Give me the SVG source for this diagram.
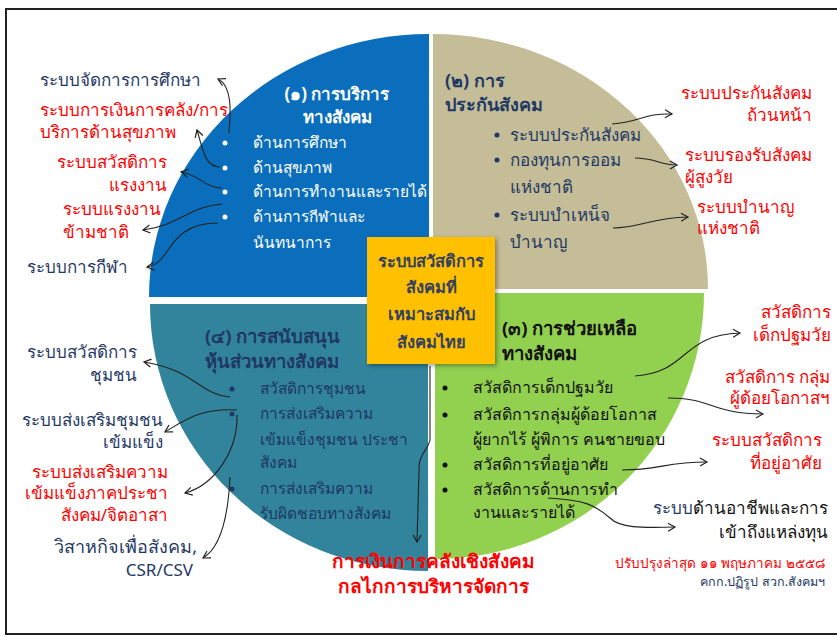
<svg xmlns="http://www.w3.org/2000/svg" width="837" height="637" viewBox="0 0 837 637">
<defs>
<marker id="a" markerWidth="10" markerHeight="10" refX="8" refY="5" orient="auto" markerUnits="userSpaceOnUse">
<path d="M1,1 L8,5 L1,9" fill="none" stroke="#222" stroke-width="1.2"/>
</marker>
<filter id="sh" x="-10%" y="-10%" width="130%" height="130%">
<feDropShadow dx="2" dy="2" stdDeviation="2" flood-color="#000" flood-opacity="0.35"/>
</filter>
</defs>
<style>
text{font-family:"Noto Sans","DejaVu Sans",sans-serif;font-size:17px}
.s15{font-size:15.5px}
.s16{font-size:16px}
.b{font-weight:bold}
.w{fill:#fff}
.nv{fill:#1F3864}
.rd{fill:#FF0000}
.bk{fill:#111}
.e{text-anchor:end}
.m{text-anchor:middle}
.c{fill:none;stroke:#222;stroke-width:1.1;marker-end:url(#a)}
</style>
<rect x="0" y="0" width="837" height="637" fill="#fff"/>
<rect x="6" y="9" width="840" height="625" fill="none" stroke="#222" stroke-width="2"/>

<g id="q1">
<path d="M429,297 L149,297 A280,263 0 0 1 429,34 Z" fill="#0A6EBD"/>
<text class="b w m" x="337" y="100" style="font-size:17px">(๑) การบริการ</text>
<text class="b w m" x="337" y="123" style="font-size:17px">ทางสังคม</text>
<g class="w">
<circle cx="225" cy="143" r="2.5"/><circle cx="225" cy="168" r="2.5"/><circle cx="225" cy="192" r="2.5"/><circle cx="225" cy="217" r="2.5"/>
</g>
<text class="w s15" x="253" y="148">ด้านการศึกษา</text>
<text class="w s15" x="253" y="173">ด้านสุขภาพ</text>
<text class="w s15" x="253" y="197">ด้านการทำงานและรายได้</text>
<text class="w s15" x="253" y="222">ด้านการกีฬาและ</text>
<text class="w s15" x="253" y="248">นันทนาการ</text>
</g>

<g id="q2">
<path d="M433,289 L433,34 A275,255 0 0 1 708,289 Z" fill="#C4BD97"/>
<text class="b nv" x="445" y="87" style="font-size:18px">(๒) การ</text>
<text class="b nv" x="445" y="111" style="font-size:18px">ประกันสังคม</text>
<g class="nv">
<circle cx="497" cy="135" r="2.5"/><circle cx="497" cy="160" r="2.5"/><circle cx="497" cy="215" r="2.5"/>
</g>
<text class="nv" x="510" y="141">ระบบประกันสังคม</text>
<text class="nv" x="510" y="166">กองทุนการออม</text>
<text class="nv" x="510" y="193">แห่งชาติ</text>
<text class="nv" x="510" y="221">ระบบบำเหน็จ</text>
<text class="nv" x="510" y="248">บำนาญ</text>
</g>

<g id="q3">
<path d="M435,293 L704,293 A269,266 0 0 1 435,559 Z" fill="#92D050"/>
<text class="b bk" x="502" y="335" style="font-size:18.5px">(๓) การช่วยเหลือ</text>
<text class="b bk" x="502" y="360" style="font-size:18.5px">ทางสังคม</text>
<g class="bk">
<circle cx="445" cy="388" r="2.5"/><circle cx="445" cy="415" r="2.5"/><circle cx="445" cy="465" r="2.5"/><circle cx="445" cy="490" r="2.5"/>
</g>
<text class="bk s16" x="473" y="393">สวัสดิการเด็กปฐมวัย</text>
<text class="bk s16" x="473" y="420">สวัสดิการกลุ่มผู้ด้อยโอกาส</text>
<text class="bk s16" x="473" y="445">ผู้ยากไร้ ผู้พิการ คนชายขอบ</text>
<text class="bk s16" x="473" y="470">สวัสดิการที่อยู่อาศัย</text>
<text class="bk s16" x="473" y="495">สวัสดิการด้านการทำ</text>
<text class="bk s16" x="473" y="518">งานและรายได้</text>
</g>

<g id="q4">
<path d="M428,304 L428,571 A278,267 0 0 1 150,304 Z" fill="#31849B"/>
<text class="b nv" x="205" y="343" style="font-size:18.5px">(๔) การสนับสนุน</text>
<text class="b nv" x="205" y="368" style="font-size:18.5px">หุ้นส่วนทางสังคม</text>
<g class="nv">
<circle cx="232" cy="389" r="2.5"/><circle cx="232" cy="414" r="2.5"/><circle cx="232" cy="489" r="2.5"/>
</g>
<text class="nv s15" x="260" y="394">สวัสดิการชุมชน</text>
<text class="nv s15" x="260" y="419">การส่งเสริมความ</text>
<text class="nv s15" x="260" y="445">เข้มแข็งชุมชน ประชา</text>
<text class="nv s15" x="260" y="468">สังคม</text>
<text class="nv s15" x="260" y="494">การส่งเสริมความ</text>
<text class="nv s15" x="260" y="519">รับผิดชอบทางสังคม</text>
</g>

<g id="center">
<rect x="367" y="237" width="128" height="127" fill="#FFC000" filter="url(#sh)"/>
<text class="b m" x="431" y="267" style="fill:#333F5F;font-size:16.5px">ระบบสวัสดิการ</text>
<text class="b m" x="431" y="293" style="fill:#333F5F;font-size:16.5px">สังคมที่</text>
<text class="b m" x="431" y="320" style="fill:#333F5F;font-size:16.5px">เหมาะสมกับ</text>
<text class="b m" x="431" y="348" style="fill:#333F5F;font-size:16.5px">สังคมไทย</text>
</g>

<g id="labels-left-top">
<text class="nv" x="40" y="86">ระบบจัดการการศึกษา</text>
<text class="rd" x="40" y="116">ระบบการเงินการคลัง/การ</text>
<text class="rd" x="40" y="138">บริการด้านสุขภาพ</text>
<text class="rd e" x="167" y="168">ระบบสวัสดิการ</text>
<text class="rd e" x="167" y="191">แรงงาน</text>
<text class="rd" x="63" y="215">ระบบแรงงาน</text>
<text class="rd" x="63" y="238">ข้ามชาติ</text>
<text class="nv" x="27" y="273">ระบบการกีฬา</text>
</g>

<g id="labels-right-top">
<text class="rd e" x="812" y="99">ระบบประกันสังคม</text>
<text class="rd e" x="812" y="121">ถ้วนหน้า</text>
<text class="rd" x="685" y="161">ระบบรองรับสังคม</text>
<text class="rd" x="685" y="183">ผู้สูงวัย</text>
<text class="rd" x="697" y="213">ระบบบำนาญ</text>
<text class="rd" x="697" y="234">แห่งชาติ</text>
</g>

<g id="labels-right-bottom">
<text class="rd e" x="831" y="318">สวัสดิการ</text>
<text class="rd e" x="831" y="341">เด็กปฐมวัย</text>
<text class="rd e" x="830" y="383">สวัสดิการ กลุ่ม</text>
<text class="rd e" x="830" y="404">ผู้ด้อยโอกาสฯ</text>
<text class="rd e" x="822" y="446">ระบบสวัสดิการ</text>
<text class="rd e" x="822" y="469">ที่อยู่อาศัย</text>
<text class="bk e" x="828" y="514"><tspan class="nv">ระบบ</tspan>ด้านอาชีพและการ</text>
<text class="bk e" x="828" y="538">เข้าถึงแหล่งทุน</text>
<text class="rd e" x="825" y="568" style="font-size:13.5px">ปรับปรุงล่าสุด  ๑๑ พฤษภาคม ๒๕๕๘</text>
<text class="nv e" x="825" y="586" style="font-size:12.5px">คกก.ปฏิรูป สวก.สังคมฯ</text>
</g>

<g id="labels-left-bottom">
<text class="nv e" x="137" y="358">ระบบสวัสดิการ</text>
<text class="nv e" x="137" y="381">ชุมชน</text>
<text class="nv e" x="163" y="426">ระบบส่งเสริมชุมชน</text>
<text class="nv e" x="163" y="448">เข้มแข็ง</text>
<text class="rd e" x="168" y="478">ระบบส่งเสริมความ</text>
<text class="rd e" x="168" y="499">เข้มแข็งภาคประชา</text>
<text class="rd e" x="168" y="521">สังคม/จิตอาสา</text>
<text class="nv e" x="197" y="553" style="font-size:18px">วิสาหกิจเพื่อสังคม,</text>
<text class="nv e" x="193" y="576">CSR/CSV</text>
</g>

<g id="bottom">
<text class="b rd m" x="433" y="568" style="font-size:19px">การเงินการคลังเชิงสังคม</text>
<text class="b rd m" x="433" y="593" style="font-size:19px">กลไกการบริหารจัดการ</text>
</g>

<g id="connectors">
<path class="c" d="M229,133 C231,110 232,86 218,79"/>
<path class="c" d="M220,167 C205,167 203,150 197,130"/>
<path class="c" d="M222,188 C205,188 200,175 181,172"/>
<path class="c" d="M222,204 C190,206 180,225 143,230"/>
<path class="c" d="M218,223 C185,223 175,240 168,250 C160,262 155,266 147,267"/>
<path class="c" d="M612,124 C640,122 645,113 672,114"/>
<path class="c" d="M635,158 C655,158 660,165 677,165"/>
<path class="c" d="M613,228 C640,228 650,218 688,217"/>
<path class="c" d="M635,376 C690,372 680,335 740,333"/>
<path class="c" d="M668,398 C712,398 712,414 763,414"/>
<path class="c" d="M622,470 C660,470 665,462 707,462"/>
<path class="c" d="M548,498 C585,500 595,505 610,518 C620,528 640,528 675,527"/>
<path class="c" d="M230,397 C200,395 195,370 144,362"/>
<path class="c" d="M237,410 C200,408 185,420 165,432"/>
<path class="c" d="M237,415 C238,450 215,485 185,493"/>
<path class="c" d="M230,477 C228,520 220,548 203,558"/>
<path class="c" d="M430,366 L430,440 C428,450 418,455 419,470 L417,542"/>
</g>
</svg>
